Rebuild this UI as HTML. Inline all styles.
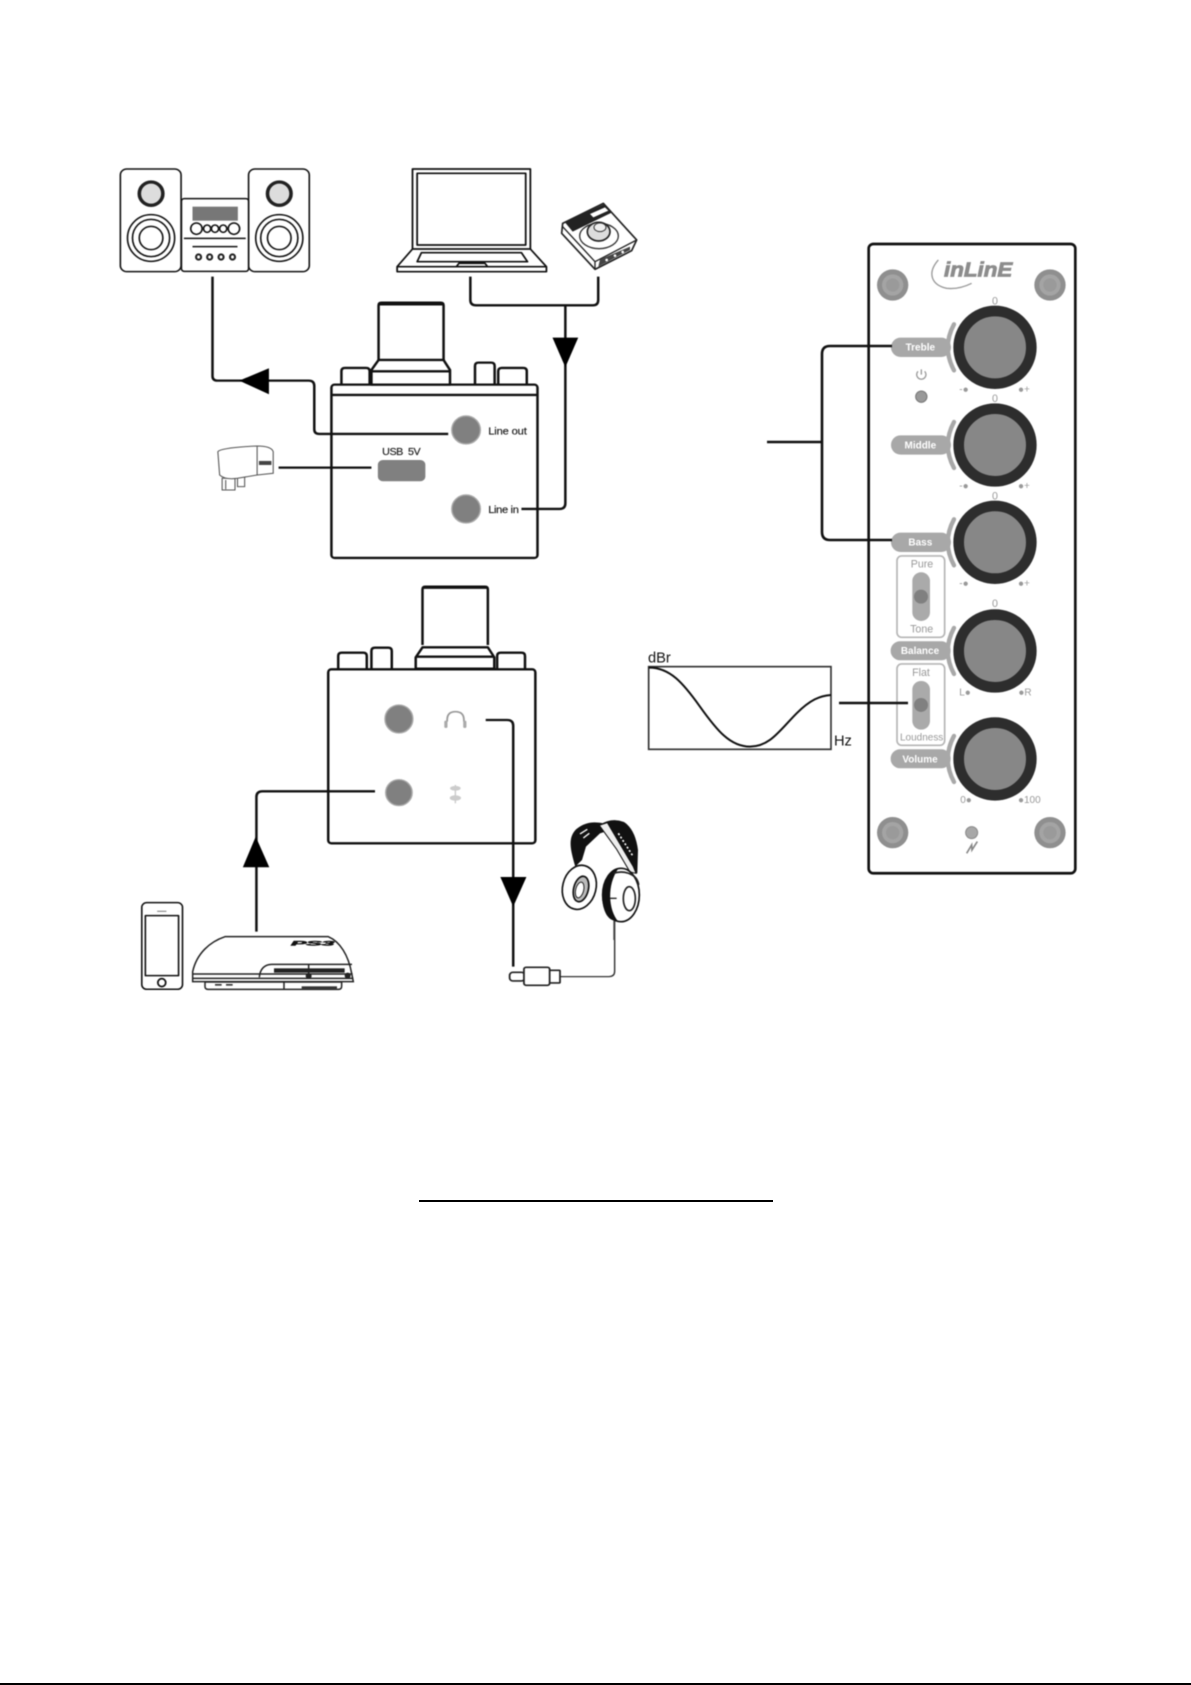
<!DOCTYPE html>
<html><head><meta charset="utf-8"><title>Diagram</title>
<style>
html,body{margin:0;padding:0;background:#fff;width:1191px;height:1685px;overflow:hidden}
svg{position:absolute;left:0;top:0;font-family:"Liberation Sans",sans-serif}
.art{filter:blur(.6px)}
.s{fill:none;stroke:#111;stroke-linejoin:round;stroke-linecap:butt}
</style></head><body>
<svg width="1191" height="1685" viewBox="0 0 1191 1685" xmlns="http://www.w3.org/2000/svg">
<rect width="1191" height="1685" fill="#fff"/>
<g class="art">

<!-- TOP DEVICE GROUP -->
<g transform="translate(100,150) scale(.35714,.3333)">
  <g class="s" stroke-width="4.5" fill="#fff">
    <rect x="57" y="57" width="170" height="308" rx="18" fill="#fff"/>
    <rect x="416" y="57" width="170" height="308" rx="18" fill="#fff"/>
    <rect x="228" y="146" width="188" height="218" rx="8" fill="#fff"/>
    <ellipse cx="143" cy="264" rx="66" ry="70"/><ellipse cx="143" cy="264" rx="52" ry="56"/><ellipse cx="143" cy="264" rx="33" ry="35"/>
    <ellipse cx="502" cy="264" rx="66" ry="70"/><ellipse cx="502" cy="264" rx="52" ry="56"/><ellipse cx="502" cy="264" rx="33" ry="35"/>
    <ellipse cx="270" cy="236" rx="16" ry="17"/><ellipse cx="300" cy="236" rx="10" ry="11"/><ellipse cx="322" cy="236" rx="10" ry="11"/><ellipse cx="345" cy="236" rx="10" ry="11"/><ellipse cx="375" cy="236" rx="16" ry="17"/>
    <path d="M235 265H408M259 290H385"/>
  </g>
  <ellipse cx="143" cy="131" rx="33" ry="35" fill="#ddd" stroke="#222" stroke-width="10"/>
  <ellipse cx="502" cy="131" rx="33" ry="35" fill="#ddd" stroke="#222" stroke-width="10"/>
  <rect x="259" y="170" width="127" height="42" fill="#777"/>
  <g fill="#fff" stroke="#222" stroke-width="6"><ellipse cx="276" cy="321" rx="7" ry="8"/><ellipse cx="307" cy="321" rx="7" ry="8"/><ellipse cx="339" cy="321" rx="7" ry="8"/><ellipse cx="371" cy="321" rx="7" ry="8"/></g>

  <!-- laptop -->
  <g class="s" stroke-width="5">
    <path d="M875 297V57H1205V297"/>
    <path d="M888 285V70H1192V285Z"/>
    <path d="M875 297L832 350V365H1250V350L1205 297Z"/>
    <path d="M832 350H1250"/>
    <path d="M900 308H1180L1197 335H888Z"/>
    <path d="M1005 340H1078L1085 350H998Z"/>
  </g>

  <!-- body -->
  <g class="s" stroke-width="7">
    <rect x="648" y="704" width="577" height="520" rx="9"/>
    <path d="M648 735H1225"/>
    <path d="M780 630V466Q780 458 788 458H954Q962 458 962 466V630"/>
    <path d="M782 462H960" stroke-width="9"/>
    <path d="M676 704V664Q676 654 686 654H745Q755 654 755 664V704"/>
    <path d="M1050 704V648Q1050 638 1060 638H1095Q1105 638 1105 648V704"/>
    <path d="M1115 704V664Q1115 654 1125 654H1185Q1195 654 1195 664V704"/>
    <path d="M780 630H962L980 660V704H760V660Z"/>
    <path d="M762 664H980"/>
  </g>
  <ellipse cx="1025" cy="840" rx="40" ry="42" fill="#808080" stroke="#aaa" stroke-width="4"/>
  <ellipse cx="1025" cy="1077" rx="40" ry="42" fill="#808080" stroke="#aaa" stroke-width="4"/>
  <rect x="778" y="930" width="133" height="64" rx="14" fill="#808080"/>
  <g fill="#222" stroke="#222" stroke-width=".6">
    <text x="1087" y="853" font-size="31" textLength="108">Line out</text>
    <text x="1087" y="1089" font-size="31" textLength="86">Line in</text>
    <text x="790" y="915" font-size="30" textLength="108" xml:space="preserve">USB  5V</text>
  </g>

  <!-- connectors -->
  <g class="s" stroke-width="7">
    <path d="M315 380V678Q315 692 329 692H584Q600 692 600 708V838Q600 852 614 852H975"/>
    <path d="M1037 380V450Q1037 466 1053 466H1380Q1395 466 1395 450V380"/>
    <path d="M1303 466V1060Q1303 1077 1287 1077H1180"/>
    <path d="M500 953H760"/>
  </g>
  <path d="M390 692L473 655V733Z" fill="#000"/>
  <path d="M1267 563H1339L1303 652Z" fill="#000"/>

  <!-- charger -->
  <g fill="#fff" stroke="#555" stroke-width="3">
    <path d="M342 985H378V1020H342Z"/>
    <path d="M385 975H405V1010H385Z"/>
    <path d="M330 905Q340 893 440 888Q480 888 485 905V970L440 975L385 985Q350 990 335 975Z"/>
    <path d="M440 890V975M352 990V1018"/>
    <rect x="445" y="933" width="35" height="12" fill="#444" stroke="none"/>
  </g>
</g>

<!-- small audio box -->
<g transform="translate(540,190) scale(.3333)">
  <path d="M68 100L190 40L290 150L275 182L165 238L65 130Z" fill="#fff" stroke="#222" stroke-width="5" stroke-linejoin="round"/>
  <path d="M75 97L190 43L215 68L98 125Z" fill="#222"/>
  <path d="M150 72L195 52L205 62L160 82Z" fill="#fff"/>
  <path d="M165 215L290 150M165 215L68 110M165 215V238" fill="none" stroke="#222" stroke-width="4"/>
  <ellipse cx="177" cy="138" rx="58" ry="38" fill="none" stroke="#333" stroke-width="4"/>
  <ellipse cx="176" cy="125" rx="34" ry="28" fill="#ddd" stroke="#222" stroke-width="5"/>
  <ellipse cx="180" cy="112" rx="18" ry="13" fill="#eee" stroke="#333" stroke-width="3"/>
  <path d="M180 208L270 170V180L175 230Z" fill="#444"/>
  <circle cx="200" cy="210" r="4" fill="#fff"/><circle cx="225" cy="197" r="4" fill="#fff"/><circle cx="248" cy="186" r="4" fill="#fff"/>
</g>

<!-- LOWER DEVICE GROUP -->
<g transform="translate(100,570) scale(.35714,.3333)">
  <g class="s" stroke-width="7">
    <rect x="639" y="298" width="580" height="522" rx="9"/>
    <path d="M903 225V58Q903 50 911 50H1078Q1086 50 1086 58V225"/>
    <path d="M905 52H1084" stroke-width="9"/>
    <path d="M903 232H1086L1104 262V296H884V262Z"/>
    <path d="M886 260H1104"/>
    <path d="M667 298V258Q667 248 677 248H737Q747 248 747 258V298"/>
    <path d="M760 298V243Q760 233 770 233H807Q817 233 817 243V298"/>
    <path d="M1112 298V258Q1112 248 1122 248H1180Q1190 248 1190 258V298"/>
  </g>
  <ellipse cx="837" cy="447" rx="39" ry="42" fill="#808080" stroke="#aaa" stroke-width="4"/>
  <ellipse cx="837" cy="668" rx="37" ry="39" fill="#808080" stroke="#aaa" stroke-width="4"/>
  <path d="M972 455V450Q972 425 995 425Q1019 425 1019 450V455" fill="none" stroke="#999" stroke-width="5"/>
  <rect x="964" y="452" width="9" height="22" rx="4" fill="#aaa"/><rect x="1017" y="452" width="9" height="22" rx="4" fill="#aaa"/>
  <g fill="#ccc"><ellipse cx="995" cy="655" rx="15" ry="7"/><ellipse cx="995" cy="684" rx="16" ry="8"/><rect x="993" y="645" width="4" height="55"/></g>

  <g class="s" stroke-width="7">
    <path d="M770 664H455Q438 664 438 681V1085"/>
    <path d="M1080 450H1140Q1157 450 1157 467V1190"/>
  </g>
  <path d="M436 800L400 892H474Z" fill="#000"/>
  <path d="M1121 921H1194L1157 1010Z" fill="#000"/>

  <!-- phone -->
  <g class="s" stroke-width="4.5" stroke="#333">
    <rect x="117" y="998" width="114" height="260" rx="14"/>
    <rect x="127" y="1037" width="93" height="180"/>
    <ellipse cx="173" cy="1238" rx="11" ry="12" stroke-width="5"/>
    <path d="M160 1024H186" stroke="#777" stroke-width="3"/>
  </g>
  <!-- plug + cable -->
  <g fill="#fff" stroke="#222" stroke-width="5">
    <path d="M1288 1220H1425Q1441 1220 1441 1204V1050" fill="none" stroke="#333" stroke-width="4"/>
    <rect x="1147" y="1207" width="42" height="26" rx="9"/>
    <rect x="1258" y="1201" width="30" height="38" rx="2"/>
    <rect x="1187" y="1192" width="72" height="54" rx="6"/>
  </g>
</g>

<!-- PS3 -->
<g transform="translate(180,920) scale(.3333)">
  <g fill="none" stroke="#222" stroke-width="4.5">
    <path d="M38 155C50 100 90 65 135 50H445C480 65 505 105 515 160L520 185H38Z" fill="#fff"/>
    <path d="M38 162H518M38 175H520"/>
    <path d="M238 172C240 146 255 133 275 133H516"/>
    <path d="M75 187V200Q75 208 84 208H476Q485 208 485 198V186H75Z" fill="#fff"/>
    <path d="M312 187V208M386 135V175"/>
  </g>
  <rect x="282" y="145" width="212" height="13" fill="#222"/>
  <rect x="365" y="199" width="106" height="7" fill="#333"/>
  <circle cx="386" cy="168" r="9" fill="#222"/><circle cx="503" cy="167" r="9" fill="#222"/>
  <rect x="105" y="192" width="20" height="5" fill="#333"/><rect x="138" y="192" width="20" height="5" fill="#333"/>
  <text x="333" y="76" font-size="19" font-weight="700" font-style="italic" fill="#111" stroke="#111" stroke-width="1.5" textLength="130" lengthAdjust="spacingAndGlyphs">PS3</text>
</g>

<!-- Headphones -->
<g transform="translate(550,810) scale(.3333)">
  <path d="M192 332V390" stroke="#444" stroke-width="4" fill="none"/>
  <path d="M76 170C62 120 52 85 78 58C105 36 130 34 160 40L175 62L150 70L108 110L96 150Z" fill="#111"/>
  <path d="M150 44Q185 22 222 36Q256 58 264 120L262 190L238 186L200 115Z" fill="#111"/>
  <path d="M148 46L172 38L250 170L258 190L240 186L200 118Z" fill="#eee" stroke="#111" stroke-width="3"/>
  <path d="M205 70L250 140" stroke="#fff" stroke-width="5" stroke-dasharray="6 6"/>
  <path d="M90 72L112 58M100 84L118 70" stroke="#fff" stroke-width="4"/>
  <ellipse cx="88" cy="232" rx="50" ry="67" transform="rotate(14 88 232)" fill="#fff" stroke="#111" stroke-width="5"/>
  <ellipse cx="93" cy="237" rx="22" ry="39" transform="rotate(14 93 237)" fill="#bbb" stroke="#111" stroke-width="5"/>
  <ellipse cx="89" cy="240" rx="12" ry="24" transform="rotate(14 89 240)" fill="#fff" stroke="#222" stroke-width="3"/>
  <ellipse cx="213" cy="255" rx="55" ry="80" fill="#fff" stroke="#111" stroke-width="5"/>
  <path d="M205 176C165 185 150 240 160 290C168 320 180 332 205 335C175 300 170 225 205 176Z" fill="#111"/>
  <path d="M190 190C220 180 262 190 266 225" fill="none" stroke="#222" stroke-width="5"/>
  <ellipse cx="238" cy="266" rx="18" ry="36" fill="#fff" stroke="#222" stroke-width="5"/>
  <path d="M180 265H200" stroke="#222" stroke-width="4"/>
</g>

<!-- dBr CHART + link -->
<g transform="translate(640,550) scale(.3333)">
  <rect x="26" y="350" width="547" height="248" fill="#fff" stroke="#333" stroke-width="5"/>
  <path d="M26 353C90 352 130 400 180 470C230 540 270 590 330 590C390 590 420 540 470 490C510 450 540 437 573 435" fill="none" stroke="#111" stroke-width="6"/>
  <text x="24" y="338" font-size="44" fill="#111">dBr</text>
  <text x="582" y="586" font-size="44" fill="#111">Hz</text>
</g>

<!-- PANEL -->
<g transform="translate(840,230) scale(.3333)">
  <rect x="86" y="42" width="620" height="1888" rx="14" fill="#fff" stroke="#111" stroke-width="8"/>
  <g>
    <circle cx="158" cy="165" r="47" fill="#8f8f8f"/><circle cx="158" cy="165" r="32" fill="#a4a4a4"/><circle cx="158" cy="165" r="20" fill="#9a9a9a"/>
    <circle cx="630" cy="165" r="47" fill="#8f8f8f"/><circle cx="630" cy="165" r="32" fill="#a4a4a4"/><circle cx="630" cy="165" r="20" fill="#9a9a9a"/>
    <circle cx="158" cy="1808" r="47" fill="#8f8f8f"/><circle cx="158" cy="1808" r="32" fill="#a4a4a4"/><circle cx="158" cy="1808" r="20" fill="#9a9a9a"/>
    <circle cx="630" cy="1808" r="47" fill="#8f8f8f"/><circle cx="630" cy="1808" r="32" fill="#a4a4a4"/><circle cx="630" cy="1808" r="20" fill="#9a9a9a"/>
  </g>
  <!-- logo -->
  <path d="M295 90C260 130 275 165 320 175C350 178 375 170 395 160" fill="none" stroke="#999" stroke-width="4"/>
  <text x="312" y="140" font-size="62" font-weight="700" font-style="italic" fill="#8c8c8c" stroke="#8c8c8c" stroke-width="2.5" textLength="205" lengthAdjust="spacingAndGlyphs">inLinE</text>

  <!-- pill labels -->
  <g fill="#a8a8a8">
    <rect x="153" y="323" width="180" height="58" rx="29"/>
    <rect x="153" y="616" width="180" height="58" rx="29"/>
    <rect x="153" y="908" width="180" height="58" rx="29"/>
    <rect x="152" y="1234" width="180" height="57" rx="28"/>
    <rect x="152" y="1558" width="180" height="57" rx="28"/>
  </g>
  <g fill="none" stroke="#a8a8a8" stroke-width="13" stroke-linecap="round">
    <path d="M342 283Q305 352 342 421"/>
    <path d="M342 576Q305 645 342 714"/>
    <path d="M342 868Q305 937 342 1006"/>
    <path d="M342 1194Q305 1263 342 1332"/>
    <path d="M342 1518Q305 1587 342 1656"/>
  </g>
  <!-- knobs -->
  <g fill="#878787" stroke="#2d2d2d" stroke-width="32">
    <circle cx="465" cy="352" r="109"/>
    <circle cx="465" cy="645" r="109"/>
    <circle cx="465" cy="937" r="109"/>
    <circle cx="465" cy="1263" r="109"/>
    <circle cx="465" cy="1587" r="109"/>
  </g>
  <g fill="#fff" font-size="30" font-weight="700" text-anchor="middle">
    <text x="241" y="362">Treble</text>
    <text x="241" y="655">Middle</text>
    <text x="241" y="946">Bass</text>
    <text x="240" y="1272">Balance</text>
    <text x="240" y="1597">Volume</text>
  </g>
  <!-- switches -->
  <g fill="none" stroke="#b5b5b5" stroke-width="5">
    <rect x="171" y="978" width="143" height="244" rx="14"/>
    <rect x="171" y="1302" width="143" height="244" rx="14"/>
  </g>
  <g fill="#aaa"><rect x="217" y="1027" width="53" height="146" rx="26"/><rect x="217" y="1353" width="53" height="146" rx="26"/></g>
  <g fill="#808080"><circle cx="243" cy="1100" r="21"/><circle cx="243" cy="1425" r="21"/></g>
  <g fill="#999" text-anchor="middle" font-size="32">
    <text x="246" y="1013">Pure</text>
    <text x="245" y="1207">Tone</text>
    <text x="243" y="1338">Flat</text>
    <text x="245" y="1531" font-size="30" textLength="130" lengthAdjust="spacingAndGlyphs">Loudness</text>
    <text x="465" y="223">0</text>
    <text x="465" y="516">0</text>
    <text x="465" y="808">0</text>
    <text x="465" y="1131">0</text>
    <text x="372" y="487" font-size="30">-●</text>
    <text x="552" y="487" font-size="30">●+</text>
    <text x="372" y="777" font-size="30">-●</text>
    <text x="552" y="777" font-size="30">●+</text>
    <text x="372" y="1069" font-size="30">-●</text>
    <text x="552" y="1069" font-size="30">●+</text>
    <text x="375" y="1396" font-size="30">L●</text>
    <text x="555" y="1396" font-size="30">●R</text>
    <text x="378" y="1719" font-size="30">0●</text>
    <text x="568" y="1719" font-size="30">●100</text>
  </g>
  <!-- LEDs / icons -->
  <circle cx="244" cy="500" r="17" fill="#999" stroke="#777" stroke-width="3"/>
  <circle cx="395" cy="1808" r="18" fill="#a8a8a8" stroke="#888" stroke-width="3"/>
  <path d="M234 424A14 14 0 1 0 254 424M244 418V434" fill="none" stroke="#999" stroke-width="4"/>
  <path d="M380 1870L395 1845L396 1860L412 1835" fill="none" stroke="#888" stroke-width="5"/>
</g>

<!-- panel connectors -->
<path d="M892 346H830Q822 346 822 354V532Q822 540 830 540H892M767 442H822" fill="none" stroke="#111" stroke-width="2.6"/>
<path d="M839 703H908" fill="none" stroke="#111" stroke-width="2.6"/>
</g>

<!-- crisp rule lines -->
<rect x="419" y="1200" width="354" height="2" fill="#000"/>
<rect x="0" y="1683" width="1191" height="2" fill="#000"/>
</svg>
</body></html>
